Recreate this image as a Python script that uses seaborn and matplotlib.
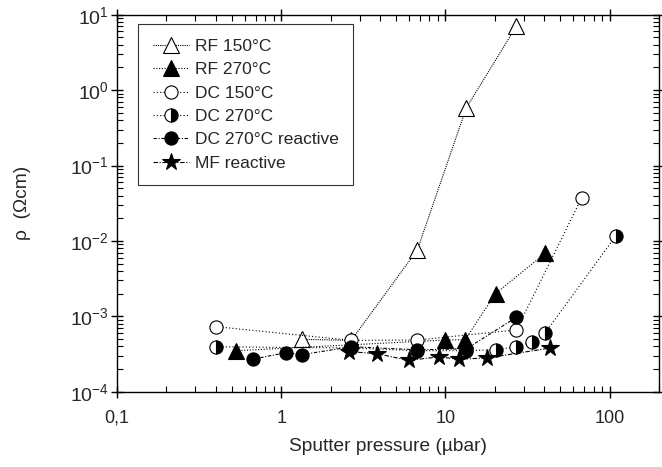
import numpy as np
import pandas as pd
import matplotlib
matplotlib.use('Agg')
import matplotlib.pyplot as plt
from matplotlib.ticker import FixedLocator, FixedFormatter, LogLocator, NullFormatter
import seaborn as sns

# sputter pressure (µbar) and resistivity (Ohm cm)
rf150_p = [1.34, 2.67, 6.75, 13.4, 27.1]
rf150_rho = [4.95e-4, 4.8e-4, 7.6e-3, 0.58, 7.1]
rf270_p = [0.53, 10.0, 13.2, 20.2, 40.7]
rf270_rho = [3.5e-4, 4.85e-4, 4.9e-4, 2.0e-3, 6.9e-3]
dc150_p = [0.40, 2.67, 6.75, 27.1, 67.5]
dc150_rho = [7.3e-4, 4.8e-4, 4.85e-4, 6.6e-4, 0.037]
dc270_p = [0.40, 2.67, 6.75, 13.4, 20.2, 27.1, 33.8, 40.7, 109]
dc270_rho = [3.95e-4, 3.8e-4, 3.5e-4, 3.5e-4, 3.6e-4, 3.95e-4, 4.6e-4, 6.1e-4, 0.0116]
dcr_p = [0.67, 1.07, 1.34, 2.67, 6.75, 13.4, 27.1]
dcr_rho = [2.7e-4, 3.3e-4, 3.1e-4, 3.95e-4, 3.6e-4, 3.7e-4, 9.7e-4]
mf_p = [2.6, 3.84, 5.97, 9.1, 12.1, 17.9, 43.6]
mf_rho = [3.4e-4, 3.2e-4, 2.6e-4, 2.9e-4, 2.7e-4, 2.8e-4, 3.8e-4]

labels = ['RF 150°C', 'RF 270°C', 'DC 150°C', 'DC 270°C', 'DC 270°C reactive', 'MF reactive']

x_ticks = [0.1, 1, 10, 100]
x_ticklabels = ['0,1', '1', '10', '100']
y_ticks = [1e-4, 1e-3, 1e-2, 1e-1, 1e0, 1e1]
y_ticklabels = ['$10^{-4}$', '$10^{-3}$', '$10^{-2}$', '$10^{-1}$', '$10^{0}$', '$10^{1}$']

sns.set_theme(style='ticks')
plt.rcParams['font.family'] = ['Liberation Sans', 'DejaVu Sans']
plt.rcParams['mathtext.fontset'] = 'custom'
plt.rcParams['mathtext.rm'] = 'Liberation Sans'
plt.rcParams['mathtext.it'] = 'Liberation Sans'
plt.rcParams['mathtext.default'] = 'regular'
plt.rcParams['axes.unicode_minus'] = False

fig = plt.figure(figsize=(6.62, 4.67), dpi=100)
ax = fig.add_axes([0.1767, 0.1612, 0.8188, 0.8073])

# style for each series: marker, size, facecolor, fillstyle, dash pattern
styles = [
    dict(marker='^', markersize=11, markerfacecolor='white', dashes=(1, 1)),
    dict(marker='^', markersize=11, markerfacecolor='black', dashes=(1, 1.5)),
    dict(marker='o', markersize=9.5, markerfacecolor='white', dashes=(1, 2)),
    dict(marker='o', markersize=9.5, markerfacecolor='black', fillstyle='right',
         markerfacecoloralt='white', dashes=(1, 2)),
    dict(marker='o', markersize=9.5, markerfacecolor='black', dashes=(3, 1.5, 1, 1.5)),
    dict(marker='*', markersize=13, markerfacecolor='black', dashes=(4, 1.5, 1, 1.5)),
]
series = [(rf150_p, rf150_rho), (rf270_p, rf270_rho), (dc150_p, dc150_rho),
          (dc270_p, dc270_rho), (dcr_p, dcr_rho), (mf_p, mf_rho)]

for (p, rho), lab, st in zip(series, labels, styles):
    df = pd.DataFrame({'p': p, 'rho': rho})
    sns.lineplot(data=df, x='p', y='rho', ax=ax, sort=False, label=lab,
                 color='black', linewidth=0.8, markeredgecolor='black',
                 markeredgewidth=0.8, **st)

ax.set_xscale('log')
ax.set_yscale('log')
ax.set_xlim(0.1, 200)
ax.set_ylim(1e-4, 10)

ax.xaxis.set_major_locator(FixedLocator(x_ticks))
ax.xaxis.set_major_formatter(FixedFormatter(x_ticklabels))
ax.yaxis.set_major_locator(FixedLocator(y_ticks))
ax.yaxis.set_major_formatter(FixedFormatter(y_ticklabels))
ax.xaxis.set_minor_locator(LogLocator(base=10, subs=np.arange(2, 10), numticks=20))
ax.yaxis.set_minor_locator(LogLocator(base=10, subs=np.arange(2, 10), numticks=20))
ax.xaxis.set_minor_formatter(NullFormatter())
ax.yaxis.set_minor_formatter(NullFormatter())

ax.tick_params(which='both', top=True, right=True, color='black')
ax.tick_params(which='major', direction='inout', length=9, width=1)
ax.tick_params(which='minor', direction='in', length=4.5, width=0.8)
ax.tick_params(axis='x', which='major', labelsize=13, pad=8.5)
ax.tick_params(axis='y', which='major', labelsize=14, pad=1.5)
for s in ax.spines.values():
    s.set_color('black')
    s.set_linewidth(1.0)

ax.set_xlabel('Sputter pressure (µbar)', fontsize=13.8, labelpad=8)
ax.set_ylabel('ρ  (Ωcm)', fontsize=13.8, labelpad=28)

leg = ax.legend(loc='upper left', bbox_to_anchor=(0.039, 0.975), borderaxespad=0,
                frameon=True, fancybox=False, edgecolor='black', fontsize=12.5,
                handlelength=2.1, handletextpad=0.3, labelspacing=0.47, borderpad=0.85)
leg.get_frame().set_linewidth(0.8)

fig.savefig('out.png', dpi=100)
